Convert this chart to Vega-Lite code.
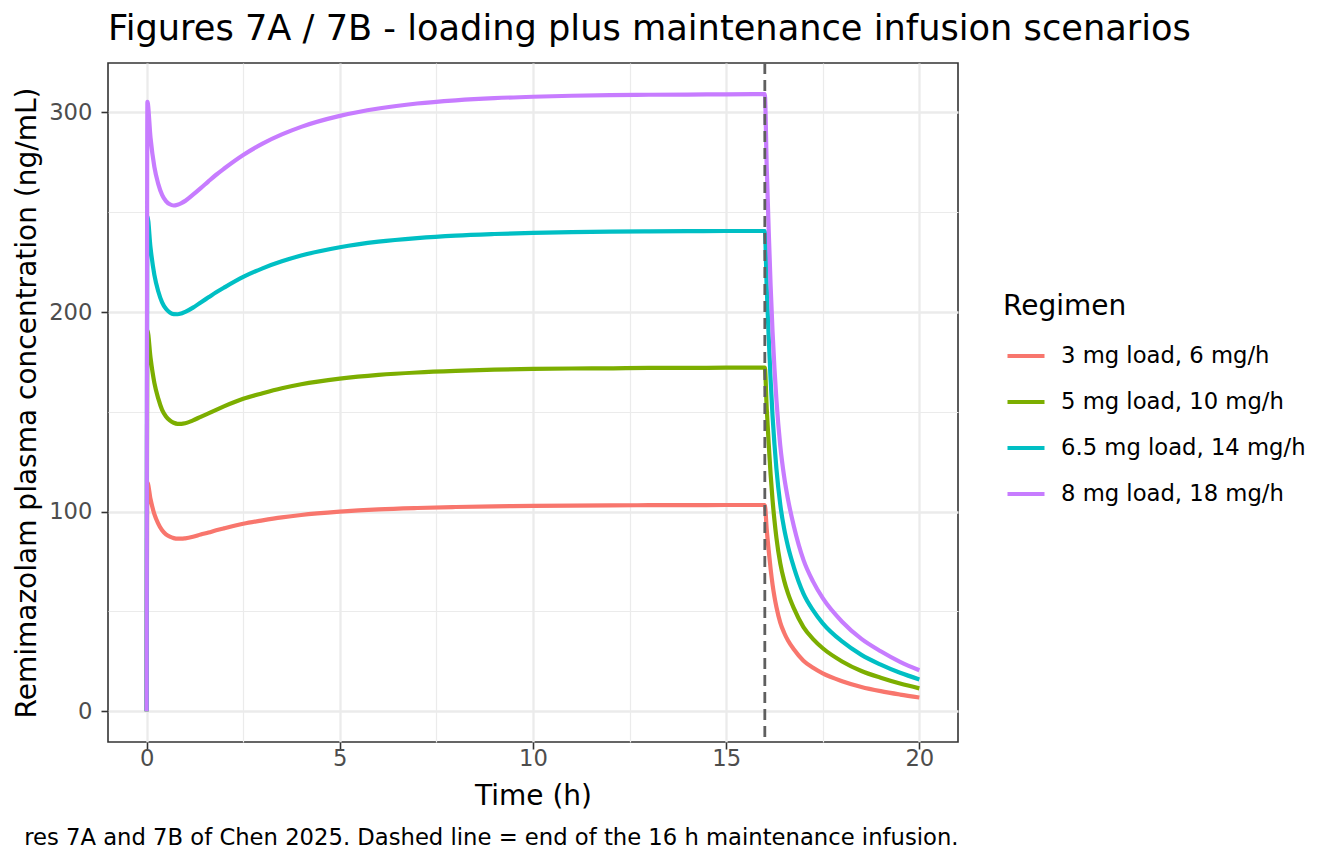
{
  "$schema": "https://vega.github.io/schema/vega-lite/v6.json",
  "width": 850,
  "height": 679,
  "padding": {"left": 13, "top": 12, "right": 5, "bottom": 5},
  "background": "white",
  "title": {
    "text": "Figures 7A / 7B - loading plus maintenance infusion scenarios",
    "anchor": "start",
    "frame": "group",
    "fontSize": 35.2,
    "fontWeight": "normal",
    "color": "black",
    "offset": 14
  },
  "config": {
    "font": "DejaVu Sans",
    "view": {"stroke": "#333333", "strokeWidth": 1.6}
  },
  "datasets": {
    "curves": [
      {"t": 0, "c": 0, "regimen": "3 mg load, 6 mg/h"},
      {"t": 0.02, "c": 114.5, "regimen": "3 mg load, 6 mg/h"},
      {"t": 0.1, "c": 106.3, "regimen": "3 mg load, 6 mg/h"},
      {"t": 0.2, "c": 98.7, "regimen": "3 mg load, 6 mg/h"},
      {"t": 0.3, "c": 94, "regimen": "3 mg load, 6 mg/h"},
      {"t": 0.4, "c": 90.6, "regimen": "3 mg load, 6 mg/h"},
      {"t": 0.5, "c": 88.6, "regimen": "3 mg load, 6 mg/h"},
      {"t": 0.6, "c": 87.4, "regimen": "3 mg load, 6 mg/h"},
      {"t": 0.7, "c": 86.7, "regimen": "3 mg load, 6 mg/h"},
      {"t": 0.8, "c": 86.4, "regimen": "3 mg load, 6 mg/h"},
      {"t": 0.9, "c": 86.4, "regimen": "3 mg load, 6 mg/h"},
      {"t": 1, "c": 86.6, "regimen": "3 mg load, 6 mg/h"},
      {"t": 1.2, "c": 87.4, "regimen": "3 mg load, 6 mg/h"},
      {"t": 1.4, "c": 88.5, "regimen": "3 mg load, 6 mg/h"},
      {"t": 1.6, "c": 89.5, "regimen": "3 mg load, 6 mg/h"},
      {"t": 1.8, "c": 90.6, "regimen": "3 mg load, 6 mg/h"},
      {"t": 2, "c": 91.6, "regimen": "3 mg load, 6 mg/h"},
      {"t": 2.5, "c": 93.9, "regimen": "3 mg load, 6 mg/h"},
      {"t": 3, "c": 95.6, "regimen": "3 mg load, 6 mg/h"},
      {"t": 3.5, "c": 97.1, "regimen": "3 mg load, 6 mg/h"},
      {"t": 4, "c": 98.3, "regimen": "3 mg load, 6 mg/h"},
      {"t": 5, "c": 99.95, "regimen": "3 mg load, 6 mg/h"},
      {"t": 6, "c": 101.1, "regimen": "3 mg load, 6 mg/h"},
      {"t": 7, "c": 101.8, "regimen": "3 mg load, 6 mg/h"},
      {"t": 8, "c": 102.3, "regimen": "3 mg load, 6 mg/h"},
      {"t": 9, "c": 102.65, "regimen": "3 mg load, 6 mg/h"},
      {"t": 10, "c": 102.9, "regimen": "3 mg load, 6 mg/h"},
      {"t": 11, "c": 103, "regimen": "3 mg load, 6 mg/h"},
      {"t": 12, "c": 103.1, "regimen": "3 mg load, 6 mg/h"},
      {"t": 13, "c": 103.2, "regimen": "3 mg load, 6 mg/h"},
      {"t": 14, "c": 103.2, "regimen": "3 mg load, 6 mg/h"},
      {"t": 15, "c": 103.3, "regimen": "3 mg load, 6 mg/h"},
      {"t": 16, "c": 103.3, "regimen": "3 mg load, 6 mg/h"},
      {"t": 16.05, "c": 90.9, "regimen": "3 mg load, 6 mg/h"},
      {"t": 16.1, "c": 80.6, "regimen": "3 mg load, 6 mg/h"},
      {"t": 16.15, "c": 71.3, "regimen": "3 mg load, 6 mg/h"},
      {"t": 16.2, "c": 63.5, "regimen": "3 mg load, 6 mg/h"},
      {"t": 16.25, "c": 57.3, "regimen": "3 mg load, 6 mg/h"},
      {"t": 16.3, "c": 52.2, "regimen": "3 mg load, 6 mg/h"},
      {"t": 16.4, "c": 44.4, "regimen": "3 mg load, 6 mg/h"},
      {"t": 16.5, "c": 39.3, "regimen": "3 mg load, 6 mg/h"},
      {"t": 16.6, "c": 35.4, "regimen": "3 mg load, 6 mg/h"},
      {"t": 16.75, "c": 31, "regimen": "3 mg load, 6 mg/h"},
      {"t": 17, "c": 25.3, "regimen": "3 mg load, 6 mg/h"},
      {"t": 17.25, "c": 21.7, "regimen": "3 mg load, 6 mg/h"},
      {"t": 17.5, "c": 18.9, "regimen": "3 mg load, 6 mg/h"},
      {"t": 18, "c": 15, "regimen": "3 mg load, 6 mg/h"},
      {"t": 18.5, "c": 12.1, "regimen": "3 mg load, 6 mg/h"},
      {"t": 19, "c": 10, "regimen": "3 mg load, 6 mg/h"},
      {"t": 19.5, "c": 8.3, "regimen": "3 mg load, 6 mg/h"},
      {"t": 20, "c": 6.8, "regimen": "3 mg load, 6 mg/h"},

      {"t": 0, "c": 0, "regimen": "5 mg load, 10 mg/h"},
      {"t": 0.02, "c": 190.8, "regimen": "5 mg load, 10 mg/h"},
      {"t": 0.1, "c": 177.2, "regimen": "5 mg load, 10 mg/h"},
      {"t": 0.2, "c": 164.5, "regimen": "5 mg load, 10 mg/h"},
      {"t": 0.3, "c": 156.7, "regimen": "5 mg load, 10 mg/h"},
      {"t": 0.4, "c": 151, "regimen": "5 mg load, 10 mg/h"},
      {"t": 0.5, "c": 147.7, "regimen": "5 mg load, 10 mg/h"},
      {"t": 0.6, "c": 145.7, "regimen": "5 mg load, 10 mg/h"},
      {"t": 0.7, "c": 144.5, "regimen": "5 mg load, 10 mg/h"},
      {"t": 0.8, "c": 144, "regimen": "5 mg load, 10 mg/h"},
      {"t": 0.9, "c": 144, "regimen": "5 mg load, 10 mg/h"},
      {"t": 1, "c": 144.3, "regimen": "5 mg load, 10 mg/h"},
      {"t": 1.2, "c": 145.7, "regimen": "5 mg load, 10 mg/h"},
      {"t": 1.4, "c": 147.5, "regimen": "5 mg load, 10 mg/h"},
      {"t": 1.6, "c": 149.2, "regimen": "5 mg load, 10 mg/h"},
      {"t": 1.8, "c": 151, "regimen": "5 mg load, 10 mg/h"},
      {"t": 2, "c": 152.7, "regimen": "5 mg load, 10 mg/h"},
      {"t": 2.5, "c": 156.5, "regimen": "5 mg load, 10 mg/h"},
      {"t": 3, "c": 159.3, "regimen": "5 mg load, 10 mg/h"},
      {"t": 3.5, "c": 161.8, "regimen": "5 mg load, 10 mg/h"},
      {"t": 4, "c": 163.8, "regimen": "5 mg load, 10 mg/h"},
      {"t": 5, "c": 166.6, "regimen": "5 mg load, 10 mg/h"},
      {"t": 6, "c": 168.5, "regimen": "5 mg load, 10 mg/h"},
      {"t": 7, "c": 169.7, "regimen": "5 mg load, 10 mg/h"},
      {"t": 8, "c": 170.5, "regimen": "5 mg load, 10 mg/h"},
      {"t": 9, "c": 171.1, "regimen": "5 mg load, 10 mg/h"},
      {"t": 10, "c": 171.5, "regimen": "5 mg load, 10 mg/h"},
      {"t": 11, "c": 171.7, "regimen": "5 mg load, 10 mg/h"},
      {"t": 12, "c": 171.8, "regimen": "5 mg load, 10 mg/h"},
      {"t": 13, "c": 172, "regimen": "5 mg load, 10 mg/h"},
      {"t": 14, "c": 172, "regimen": "5 mg load, 10 mg/h"},
      {"t": 15, "c": 172.1, "regimen": "5 mg load, 10 mg/h"},
      {"t": 16, "c": 172.1, "regimen": "5 mg load, 10 mg/h"},
      {"t": 16.05, "c": 151.4, "regimen": "5 mg load, 10 mg/h"},
      {"t": 16.1, "c": 134.2, "regimen": "5 mg load, 10 mg/h"},
      {"t": 16.15, "c": 118.7, "regimen": "5 mg load, 10 mg/h"},
      {"t": 16.2, "c": 105.8, "regimen": "5 mg load, 10 mg/h"},
      {"t": 16.25, "c": 95.5, "regimen": "5 mg load, 10 mg/h"},
      {"t": 16.3, "c": 86.9, "regimen": "5 mg load, 10 mg/h"},
      {"t": 16.4, "c": 74, "regimen": "5 mg load, 10 mg/h"},
      {"t": 16.5, "c": 65.4, "regimen": "5 mg load, 10 mg/h"},
      {"t": 16.6, "c": 59, "regimen": "5 mg load, 10 mg/h"},
      {"t": 16.75, "c": 51.6, "regimen": "5 mg load, 10 mg/h"},
      {"t": 17, "c": 42.1, "regimen": "5 mg load, 10 mg/h"},
      {"t": 17.25, "c": 36.1, "regimen": "5 mg load, 10 mg/h"},
      {"t": 17.5, "c": 31.5, "regimen": "5 mg load, 10 mg/h"},
      {"t": 18, "c": 24.9, "regimen": "5 mg load, 10 mg/h"},
      {"t": 18.5, "c": 20.1, "regimen": "5 mg load, 10 mg/h"},
      {"t": 19, "c": 16.7, "regimen": "5 mg load, 10 mg/h"},
      {"t": 19.5, "c": 13.8, "regimen": "5 mg load, 10 mg/h"},
      {"t": 20, "c": 11.4, "regimen": "5 mg load, 10 mg/h"},

      {"t": 0, "c": 0, "regimen": "6.5 mg load, 14 mg/h"},
      {"t": 0.02, "c": 248, "regimen": "6.5 mg load, 14 mg/h"},
      {"t": 0.1, "c": 232.3, "regimen": "6.5 mg load, 14 mg/h"},
      {"t": 0.2, "c": 218.6, "regimen": "6.5 mg load, 14 mg/h"},
      {"t": 0.3, "c": 210.4, "regimen": "6.5 mg load, 14 mg/h"},
      {"t": 0.4, "c": 204.85, "regimen": "6.5 mg load, 14 mg/h"},
      {"t": 0.5, "c": 201.6, "regimen": "6.5 mg load, 14 mg/h"},
      {"t": 0.6, "c": 199.8, "regimen": "6.5 mg load, 14 mg/h"},
      {"t": 0.7, "c": 198.95, "regimen": "6.5 mg load, 14 mg/h"},
      {"t": 0.8, "c": 198.9, "regimen": "6.5 mg load, 14 mg/h"},
      {"t": 0.9, "c": 199.3, "regimen": "6.5 mg load, 14 mg/h"},
      {"t": 1, "c": 200.05, "regimen": "6.5 mg load, 14 mg/h"},
      {"t": 1.2, "c": 202.2, "regimen": "6.5 mg load, 14 mg/h"},
      {"t": 1.4, "c": 204.8, "regimen": "6.5 mg load, 14 mg/h"},
      {"t": 1.6, "c": 207.35, "regimen": "6.5 mg load, 14 mg/h"},
      {"t": 1.8, "c": 209.9, "regimen": "6.5 mg load, 14 mg/h"},
      {"t": 2, "c": 212.2, "regimen": "6.5 mg load, 14 mg/h"},
      {"t": 2.5, "c": 217.6, "regimen": "6.5 mg load, 14 mg/h"},
      {"t": 3, "c": 221.9, "regimen": "6.5 mg load, 14 mg/h"},
      {"t": 3.5, "c": 225.4, "regimen": "6.5 mg load, 14 mg/h"},
      {"t": 4, "c": 228.3, "regimen": "6.5 mg load, 14 mg/h"},
      {"t": 5, "c": 232.45, "regimen": "6.5 mg load, 14 mg/h"},
      {"t": 6, "c": 235.25, "regimen": "6.5 mg load, 14 mg/h"},
      {"t": 7, "c": 237.05, "regimen": "6.5 mg load, 14 mg/h"},
      {"t": 8, "c": 238.3, "regimen": "6.5 mg load, 14 mg/h"},
      {"t": 9, "c": 239.1, "regimen": "6.5 mg load, 14 mg/h"},
      {"t": 10, "c": 239.7, "regimen": "6.5 mg load, 14 mg/h"},
      {"t": 11, "c": 240, "regimen": "6.5 mg load, 14 mg/h"},
      {"t": 12, "c": 240.25, "regimen": "6.5 mg load, 14 mg/h"},
      {"t": 13, "c": 240.45, "regimen": "6.5 mg load, 14 mg/h"},
      {"t": 14, "c": 240.5, "regimen": "6.5 mg load, 14 mg/h"},
      {"t": 15, "c": 240.6, "regimen": "6.5 mg load, 14 mg/h"},
      {"t": 16, "c": 240.6, "regimen": "6.5 mg load, 14 mg/h"},
      {"t": 16.05, "c": 211.7, "regimen": "6.5 mg load, 14 mg/h"},
      {"t": 16.1, "c": 187.7, "regimen": "6.5 mg load, 14 mg/h"},
      {"t": 16.15, "c": 166, "regimen": "6.5 mg load, 14 mg/h"},
      {"t": 16.2, "c": 148, "regimen": "6.5 mg load, 14 mg/h"},
      {"t": 16.25, "c": 133.5, "regimen": "6.5 mg load, 14 mg/h"},
      {"t": 16.3, "c": 121.5, "regimen": "6.5 mg load, 14 mg/h"},
      {"t": 16.4, "c": 103.5, "regimen": "6.5 mg load, 14 mg/h"},
      {"t": 16.5, "c": 91.4, "regimen": "6.5 mg load, 14 mg/h"},
      {"t": 16.6, "c": 82.5, "regimen": "6.5 mg load, 14 mg/h"},
      {"t": 16.75, "c": 72.2, "regimen": "6.5 mg load, 14 mg/h"},
      {"t": 17, "c": 58.9, "regimen": "6.5 mg load, 14 mg/h"},
      {"t": 17.25, "c": 50.5, "regimen": "6.5 mg load, 14 mg/h"},
      {"t": 17.5, "c": 44, "regimen": "6.5 mg load, 14 mg/h"},
      {"t": 18, "c": 34.9, "regimen": "6.5 mg load, 14 mg/h"},
      {"t": 18.5, "c": 28.2, "regimen": "6.5 mg load, 14 mg/h"},
      {"t": 19, "c": 23.3, "regimen": "6.5 mg load, 14 mg/h"},
      {"t": 19.5, "c": 19.2, "regimen": "6.5 mg load, 14 mg/h"},
      {"t": 20, "c": 15.9, "regimen": "6.5 mg load, 14 mg/h"},

      {"t": 0, "c": 0, "regimen": "8 mg load, 18 mg/h"},
      {"t": 0.02, "c": 305.3, "regimen": "8 mg load, 18 mg/h"},
      {"t": 0.1, "c": 287.5, "regimen": "8 mg load, 18 mg/h"},
      {"t": 0.2, "c": 272.7, "regimen": "8 mg load, 18 mg/h"},
      {"t": 0.3, "c": 264.2, "regimen": "8 mg load, 18 mg/h"},
      {"t": 0.4, "c": 258.7, "regimen": "8 mg load, 18 mg/h"},
      {"t": 0.5, "c": 255.6, "regimen": "8 mg load, 18 mg/h"},
      {"t": 0.6, "c": 254, "regimen": "8 mg load, 18 mg/h"},
      {"t": 0.7, "c": 253.4, "regimen": "8 mg load, 18 mg/h"},
      {"t": 0.8, "c": 253.8, "regimen": "8 mg load, 18 mg/h"},
      {"t": 0.9, "c": 254.6, "regimen": "8 mg load, 18 mg/h"},
      {"t": 1, "c": 255.7, "regimen": "8 mg load, 18 mg/h"},
      {"t": 1.2, "c": 258.8, "regimen": "8 mg load, 18 mg/h"},
      {"t": 1.4, "c": 262.1, "regimen": "8 mg load, 18 mg/h"},
      {"t": 1.6, "c": 265.5, "regimen": "8 mg load, 18 mg/h"},
      {"t": 1.8, "c": 268.8, "regimen": "8 mg load, 18 mg/h"},
      {"t": 2, "c": 271.8, "regimen": "8 mg load, 18 mg/h"},
      {"t": 2.5, "c": 278.7, "regimen": "8 mg load, 18 mg/h"},
      {"t": 3, "c": 284.4, "regimen": "8 mg load, 18 mg/h"},
      {"t": 3.5, "c": 289, "regimen": "8 mg load, 18 mg/h"},
      {"t": 4, "c": 292.8, "regimen": "8 mg load, 18 mg/h"},
      {"t": 5, "c": 298.3, "regimen": "8 mg load, 18 mg/h"},
      {"t": 6, "c": 302, "regimen": "8 mg load, 18 mg/h"},
      {"t": 7, "c": 304.5, "regimen": "8 mg load, 18 mg/h"},
      {"t": 8, "c": 306.1, "regimen": "8 mg load, 18 mg/h"},
      {"t": 9, "c": 307.2, "regimen": "8 mg load, 18 mg/h"},
      {"t": 10, "c": 307.9, "regimen": "8 mg load, 18 mg/h"},
      {"t": 11, "c": 308.4, "regimen": "8 mg load, 18 mg/h"},
      {"t": 12, "c": 308.7, "regimen": "8 mg load, 18 mg/h"},
      {"t": 13, "c": 308.9, "regimen": "8 mg load, 18 mg/h"},
      {"t": 14, "c": 309, "regimen": "8 mg load, 18 mg/h"},
      {"t": 15, "c": 309.1, "regimen": "8 mg load, 18 mg/h"},
      {"t": 16, "c": 309.2, "regimen": "8 mg load, 18 mg/h"},
      {"t": 16.05, "c": 272.1, "regimen": "8 mg load, 18 mg/h"},
      {"t": 16.1, "c": 241.2, "regimen": "8 mg load, 18 mg/h"},
      {"t": 16.15, "c": 213.3, "regimen": "8 mg load, 18 mg/h"},
      {"t": 16.2, "c": 190.2, "regimen": "8 mg load, 18 mg/h"},
      {"t": 16.25, "c": 171.6, "regimen": "8 mg load, 18 mg/h"},
      {"t": 16.3, "c": 156.1, "regimen": "8 mg load, 18 mg/h"},
      {"t": 16.4, "c": 133, "regimen": "8 mg load, 18 mg/h"},
      {"t": 16.5, "c": 117.5, "regimen": "8 mg load, 18 mg/h"},
      {"t": 16.6, "c": 106.1, "regimen": "8 mg load, 18 mg/h"},
      {"t": 16.75, "c": 92.8, "regimen": "8 mg load, 18 mg/h"},
      {"t": 17, "c": 75.8, "regimen": "8 mg load, 18 mg/h"},
      {"t": 17.25, "c": 64.9, "regimen": "8 mg load, 18 mg/h"},
      {"t": 17.5, "c": 56.6, "regimen": "8 mg load, 18 mg/h"},
      {"t": 18, "c": 44.8, "regimen": "8 mg load, 18 mg/h"},
      {"t": 18.5, "c": 36.2, "regimen": "8 mg load, 18 mg/h"},
      {"t": 19, "c": 30, "regimen": "8 mg load, 18 mg/h"},
      {"t": 19.5, "c": 24.7, "regimen": "8 mg load, 18 mg/h"},
      {"t": 20, "c": 20.5, "regimen": "8 mg load, 18 mg/h"}
    ],
    "infusion_end": [{"t": 16}]
  },
  "layer": [
    {
      "data": {"name": "curves"},
      "mark": {"type": "line", "strokeWidth": 4.2, "interpolate": "monotone", "clip": true},
      "encoding": {
        "x": {
          "field": "t",
          "type": "quantitative",
          "scale": {"domain": [-1, 21], "nice": false, "zero": false},
          "axis": {
            "orient": "bottom",
            "title": "Time (h)",
            "titleFontSize": 28,
            "titleFontWeight": "normal",
            "titleColor": "black",
            "titlePadding": 13,
            "values": [0, 2.5, 5, 7.5, 10, 12.5, 15, 17.5, 20],
            "labelExpr": "datum.value % 5 === 0 ? datum.label : ''",
            "labelFontSize": 22.7,
            "labelColor": "#4D4D4D",
            "labelPadding": -2,
            "labelFlush": false,
            "labelOverlap": false,
            "domain": false,
            "tickSize": 7,
            "tickWidth": 1.6,
            "tickColor": "#333333",
            "tickOpacity": {"condition": {"test": "datum.value % 5 !== 0", "value": 0}, "value": 1},
            "gridColor": "#EBEBEB",
            "gridWidth": {"condition": {"test": "datum.value % 5 !== 0", "value": 1.2}, "value": 2.3}
          }
        },
        "y": {
          "field": "c",
          "type": "quantitative",
          "scale": {"domain": [-15.47, 324.8], "nice": false, "zero": false},
          "axis": {
            "title": "Remimazolam plasma concentration (ng/mL)",
            "titleFontSize": 28,
            "titleFontWeight": "normal",
            "titleColor": "black",
            "titlePadding": 7,
            "values": [0, 50, 100, 150, 200, 250, 300],
            "labelExpr": "datum.value % 100 === 0 ? datum.label : ''",
            "labelFontSize": 22.7,
            "labelColor": "#4D4D4D",
            "labelPadding": 9,
            "labelOverlap": false,
            "domain": false,
            "tickSize": 7,
            "tickWidth": 1.6,
            "tickColor": "#333333",
            "tickOpacity": {"condition": {"test": "datum.value % 100 !== 0", "value": 0}, "value": 1},
            "gridColor": "#EBEBEB",
            "gridWidth": {"condition": {"test": "datum.value % 100 !== 0", "value": 1.2}, "value": 2.3}
          }
        },
        "color": {
          "field": "regimen",
          "type": "nominal",
          "scale": {
            "domain": ["3 mg load, 6 mg/h", "5 mg load, 10 mg/h", "6.5 mg load, 14 mg/h", "8 mg load, 18 mg/h"],
            "range": ["#F8766D", "#7CAE00", "#00BFC4", "#C77CFF"]
          },
          "legend": {
            "title": "Regimen",
            "orient": "none",
            "legendX": 895,
            "legendY": 230,
            "titleFontSize": 28,
            "titleFontWeight": "normal",
            "titleColor": "black",
            "titlePadding": 14,
            "labelFontSize": 22.7,
            "labelColor": "black",
            "labelLimit": 0,
            "labelOffset": 14,
            "symbolType": "stroke",
            "symbolSize": 1369,
            "symbolStrokeWidth": 4.2,
            "symbolOffset": 2,
            "rowPadding": 13,
            "padding": 0
          }
        }
      }
    },
    {
      "data": {"name": "infusion_end"},
      "mark": {"type": "rule", "strokeDash": [11, 6], "strokeWidth": 2.8, "color": "#5F5F5F"},
      "encoding": {
        "x": {"field": "t", "type": "quantitative", "axis": null}
      }
    },
    {
      "data": {"name": "infusion_end"},
      "mark": {"type": "point", "opacity": 0},
      "encoding": {
        "x": {
          "field": "t",
          "type": "quantitative",
          "axis": {
            "orient": "bottom",
            "title": "res 7A and 7B of Chen 2025. Dashed line = end of the 16 h maintenance infusion.",
            "titleAnchor": "end",
            "titleFontSize": 22.7,
            "titleFontWeight": "normal",
            "titleColor": "black",
            "titlePadding": 84,
            "labels": false,
            "ticks": false,
            "domain": false,
            "grid": false
          }
        }
      }
    }
  ],
  "resolve": {"axis": {"x": "independent"}}
}
